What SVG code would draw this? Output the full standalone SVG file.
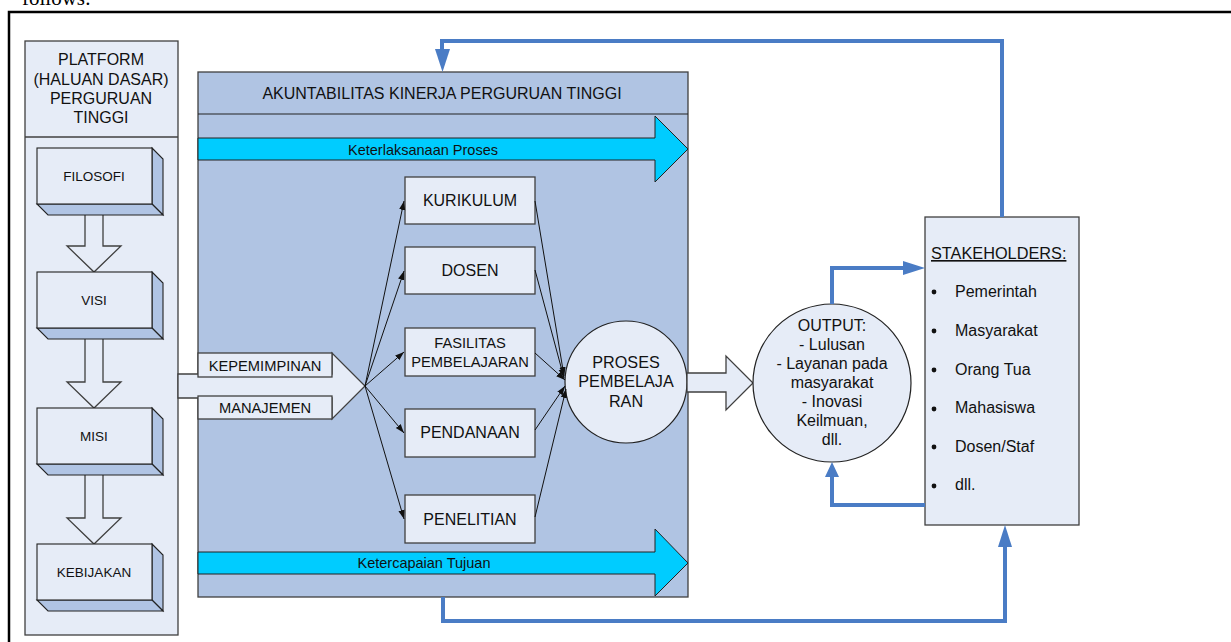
<svg xmlns="http://www.w3.org/2000/svg" width="1231" height="642" viewBox="0 0 1231 642">
<defs>
<style>
.t{font-family:"Liberation Sans",Arial,sans-serif;fill:#111;text-anchor:middle}
.lt{fill:#E6ECF7;stroke:#404040;stroke-width:1.3}
.side{fill:#B0C4E4;stroke:#222;stroke-width:1.1}
.front{fill:#E6ECF7;stroke:#222;stroke-width:1.1}
.panel{fill:#B0C4E3;stroke:#404040;stroke-width:1.3}
.cyan{fill:#00CCFF;stroke:#222;stroke-width:1}
.blue{fill:none;stroke:#4A7CC5;stroke-width:4}
.thin{fill:none;stroke:#111;stroke-width:1}
</style>
<marker id="ah" viewBox="0 0 10 10" refX="10" refY="5" markerWidth="9" markerHeight="9" markerUnits="userSpaceOnUse" orient="auto">
<path d="M0,1.5 L10,5 L0,8.5 Z" fill="#111"/>
</marker>
</defs>
<rect width="1231" height="642" fill="#fff"/>
<text x="22" y="5" style="font-family:'Liberation Serif','Times New Roman',serif;font-size:21px;fill:#000">follows:</text>
<path d="M9,642 V12 H1231" fill="none" stroke="#000" stroke-width="2.5"/>

<g id="platform">
<rect class="lt" x="25" y="41" width="153" height="594"/>
<line x1="25" y1="137" x2="178" y2="137" stroke="#404040" stroke-width="1.3"/>
<text class="t" font-size="16"><tspan x="101" y="65">PLATFORM</tspan><tspan x="101" y="85">(HALUAN DASAR)</tspan><tspan x="101" y="104">PERGURUAN</tspan><tspan x="101" y="123">TINGGI</tspan></text>
</g>

<g id="flow-arrows">
<polygon class="lt" points="85,212 103,212 103,246 121,246 94,272 67,246 85,246"/>
<polygon class="lt" points="85,336 103,336 103,382 121,382 94,408 67,382 85,382"/>
<polygon class="lt" points="85,472 103,472 103,518 121,518 94,544 67,518 85,518"/>
</g>

<g id="filosofi">
<polygon class="side" points="152,148 163,159 163,215 152,204"/>
<polygon class="side" points="37,204 152,204 163,215 48,215"/>
<rect class="front" x="37" y="148" width="115" height="56"/>
<text class="t" x="94" y="181" font-size="13.5">FILOSOFI</text>
</g>
<g id="visi">
<polygon class="side" points="152,272 163,283 163,339 152,328"/>
<polygon class="side" points="37,328 152,328 163,339 48,339"/>
<rect class="front" x="37" y="272" width="115" height="56"/>
<text class="t" x="94" y="305" font-size="13.5">VISI</text>
</g>
<g id="misi">
<polygon class="side" points="152,408 163,419 163,475 152,464"/>
<polygon class="side" points="37,464 152,464 163,475 48,475"/>
<rect class="front" x="37" y="408" width="115" height="56"/>
<text class="t" x="94" y="441" font-size="13.5">MISI</text>
</g>
<g id="kebijakan">
<polygon class="side" points="152,544 163,555 163,611 152,600"/>
<polygon class="side" points="37,600 152,600 163,611 48,611"/>
<rect class="front" x="37" y="544" width="115" height="56"/>
<text class="t" x="94" y="577" font-size="13.5">KEBIJAKAN</text>
</g>

<g id="akuntabilitas">
<rect class="panel" x="198" y="72" width="490" height="525"/>
<line x1="198" y1="114" x2="688" y2="114" stroke="#222" stroke-width="1.2"/>
<text class="t" x="442" y="99" font-size="16">AKUNTABILITAS KINERJA PERGURUAN TINGGI</text>
</g>

<g id="keterlaksanaan">
<polygon class="cyan" points="198,138 655,138 655,116 688,149 655,182 655,160 198,160"/>
<text class="t" x="423" y="155" font-size="14.5">Keterlaksanaan Proses</text>
</g>
<g id="ketercapaian">
<polygon class="cyan" points="198,552 655,552 655,529 688,563 655,596 655,574 198,574"/>
<text class="t" x="424" y="568" font-size="14.5">Ketercapaian Tujuan</text>
</g>

<g id="kepemimpinan-manajemen">
<polygon class="lt" points="178,374 332,374 332,353 365,386 332,419 332,398 178,398"/>
<rect class="lt" x="198" y="353" width="134" height="24"/>
<rect class="lt" x="198" y="396" width="134" height="23"/>
<text class="t" x="265" y="371" font-size="14.7">KEPEMIMPINAN</text>
<text class="t" x="265" y="413" font-size="14.7">MANAJEMEN</text>
</g>

<g id="kurikulum"><rect class="lt" x="405" y="177" width="130" height="47"/><text class="t" x="470" y="206" font-size="16">KURIKULUM</text></g>
<g id="dosen"><rect class="lt" x="405" y="247" width="130" height="47"/><text class="t" x="470" y="276" font-size="16">DOSEN</text></g>
<g id="fasilitas"><rect class="lt" x="405" y="328" width="130" height="48"/><text class="t" font-size="14.7"><tspan x="470" y="348">FASILITAS</tspan><tspan x="470" y="367">PEMBELAJARAN</tspan></text></g>
<g id="pendanaan"><rect class="lt" x="405" y="409" width="130" height="48"/><text class="t" x="470" y="438" font-size="16">PENDANAAN</text></g>
<g id="penelitian"><rect class="lt" x="405" y="495" width="130" height="48"/><text class="t" x="470" y="525" font-size="16">PENELITIAN</text></g>

<g id="proses">
<circle cx="626" cy="382" r="61" fill="#E6ECF7" stroke="#222" stroke-width="1.2"/>
<text class="t" font-size="16.2"><tspan x="626" y="368">PROSES</tspan><tspan x="626" y="387">PEMBELAJA</tspan><tspan x="626" y="407">RAN</tspan></text>
</g>

<g id="output-arrow">
<polygon class="lt" points="687,373 726,373 726,356 753,383 726,410 726,392 687,392"/>
</g>

<g id="output">
<circle cx="832" cy="383" r="79" fill="#E6ECF7" stroke="#222" stroke-width="1.2"/>
<text class="t" font-size="16"><tspan x="832" y="331">OUTPUT:</tspan><tspan x="832" y="350">- Lulusan</tspan><tspan x="832" y="369">- Layanan pada</tspan><tspan x="832" y="388">masyarakat</tspan><tspan x="832" y="407">- Inovasi</tspan><tspan x="832" y="426">Keilmuan,</tspan><tspan x="832" y="445">dll.</tspan></text>
</g>

<g id="stakeholders">
<rect class="lt" x="925" y="217" width="154" height="308"/>
<text x="931" y="259" font-size="16.3" text-decoration="underline" style="font-family:'Liberation Sans',Arial,sans-serif;fill:#111">STAKEHOLDERS:</text>
<g fill="#111">
<circle cx="934" cy="292" r="2.4"/><circle cx="934" cy="331" r="2.4"/><circle cx="934" cy="370" r="2.4"/><circle cx="934" cy="409" r="2.4"/><circle cx="934" cy="447" r="2.4"/><circle cx="934" cy="486" r="2.4"/>
</g>
<g font-size="16" style="font-family:'Liberation Sans',Arial,sans-serif;fill:#111">
<text x="955" y="297">Pemerintah</text>
<text x="955" y="336">Masyarakat</text>
<text x="955" y="375">Orang Tua</text>
<text x="955" y="413">Mahasiswa</text>
<text x="955" y="452">Dosen/Staf</text>
<text x="955" y="490">dll.</text>
</g>
</g>

<g id="connectors">
<line class="thin" x1="365" y1="386" x2="404" y2="201" marker-end="url(#ah)"/>
<line class="thin" x1="365" y1="386" x2="404" y2="271" marker-end="url(#ah)"/>
<line class="thin" x1="365" y1="386" x2="404" y2="352" marker-end="url(#ah)"/>
<line class="thin" x1="365" y1="386" x2="404" y2="433" marker-end="url(#ah)"/>
<line class="thin" x1="365" y1="386" x2="404" y2="519" marker-end="url(#ah)"/>
<line class="thin" x1="535" y1="201" x2="564" y2="376" marker-end="url(#ah)"/>
<line class="thin" x1="535" y1="270" x2="564" y2="378" marker-end="url(#ah)"/>
<line class="thin" x1="535" y1="353" x2="565" y2="380" marker-end="url(#ah)"/>
<line class="thin" x1="535" y1="430" x2="565" y2="386" marker-end="url(#ah)"/>
<line class="thin" x1="535" y1="517" x2="566" y2="389" marker-end="url(#ah)"/>
<path class="blue" d="M1002,217 V41 H442 V50"/>
<polygon points="435,49 450,49 442.5,72" fill="#4A7CC5"/>
<path class="blue" d="M443,597 V621 H1005 V546"/>
<polygon points="998,547 1012,547 1005,525" fill="#4A7CC5"/>
<path class="blue" d="M832,304 V268 H904"/>
<polygon points="903,261 903,275 925,268" fill="#4A7CC5"/>
<path class="blue" d="M925,505 H832 V476"/>
<polygon points="825,477 839,477 832,462" fill="#4A7CC5"/>
</g>
</svg>
